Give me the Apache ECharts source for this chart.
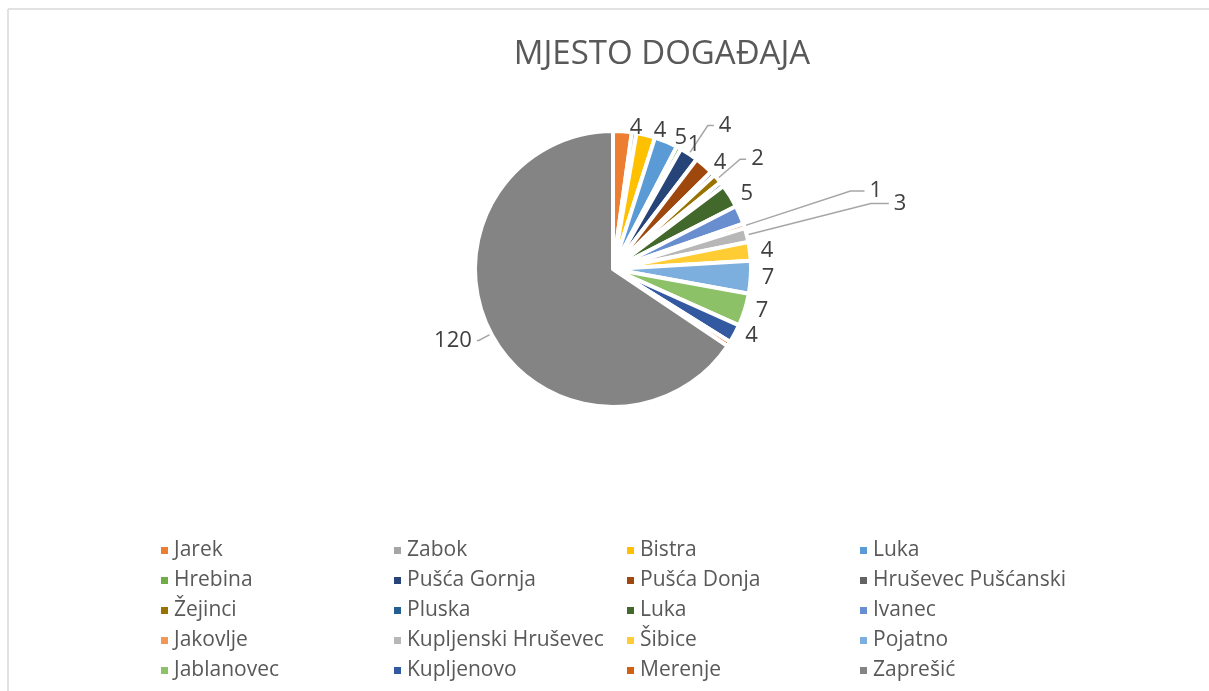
<!DOCTYPE html>
<html>
<head>
<meta charset="utf-8">
<script src="https://cdn.jsdelivr.net/npm/echarts@6/dist/echarts.min.js"></script>
<style>
html,body{margin:0;padding:0;background:#fff;}
#chart{width:1209px;height:691px;}
</style>
</head>
<body>
<div id="chart"></div>
<script>
const titleText = 'MJESTO DOGAĐAJA';
const categories = ['Jarek','Zabok','Bistra','Luka','Hrebina','Pušća Gornja','Pušća Donja','Hruševec Pušćanski','Žejinci','Pluska','Luka ','Ivanec','Jakovlje','Kupljenski Hruševec','Šibice','Pojatno','Jablanovec','Kupljenovo','Merenje','Zaprešić'];
const values = [4,1,4,5,1,4,4,1,2,1,5,4,1,3,4,7,7,4,1,120];
const colors = ['#ED7D31','#A5A5A5','#FFC000','#5B9BD5','#70AD47','#264478','#9E480E','#636363','#997300','#255E91','#43682B','#698ED0','#F1975A','#B7B7B7','#FFCD33','#7CAFDD','#8CC168','#335AA1','#D26012','#848484'];

// leader-line styling for labels Excel pulled away from their slices (index -> [length, length2])
const leaders = {5:[34,6], 7:[42,4], 8:[30,6], 12:[112,14], 13:[128,18], 19:[14,2]};

const chart = echarts.init(document.getElementById('chart'));
const data = categories.map((c,i)=>{
  const d = {name:c, value:values[i], itemStyle:{color:colors[i]}};
  if (leaders[i]) d.labelLine = {show:true, length:leaders[i][0], length2:leaders[i][1]};
  return d;
});
chart.setOption({
  animation:false,
  backgroundColor:'#fff',
  title:{text:titleText, left:657, top:33, textAlign:'center',
    textStyle:{fontFamily:'Open Sans', fontWeight:'normal', fontSize:33, color:'#595959'}},
  legend:{
    data:categories,
    left:154, top:535, width:950,
    orient:'horizontal',
    icon:'rect', itemWidth:9, itemHeight:9, itemGap:9,
    textStyle:{fontFamily:'Open Sans', fontSize:21, color:'#595959', width:209, overflow:'truncate', lineHeight:21}
  },
  graphic:[
    {type:'line', shape:{x1:8,y1:9,x2:1209,y2:9}, style:{stroke:'#d9d9d9', lineWidth:1.5}},
    {type:'line', shape:{x1:8,y1:9,x2:8,y2:691}, style:{stroke:'#d9d9d9', lineWidth:1.5}}
  ],
  series:[{
    type:'pie',
    center:[613,269],
    radius:[0,138],
    startAngle:90,
    clockwise:true,
    avoidLabelOverlap:false,
    data:data,
    itemStyle:{borderColor:'#fff', borderWidth:4},
    label:{show:true, position:'outside', formatter:'{c}', fontFamily:'Open Sans', fontSize:22, color:'#404040'},
    labelLine:{show:false, length:4, length2:2, lineStyle:{color:'#a6a6a6', width:1.5}},
    emphasis:{disabled:true}
  }]
});
</script>
</body>
</html>
